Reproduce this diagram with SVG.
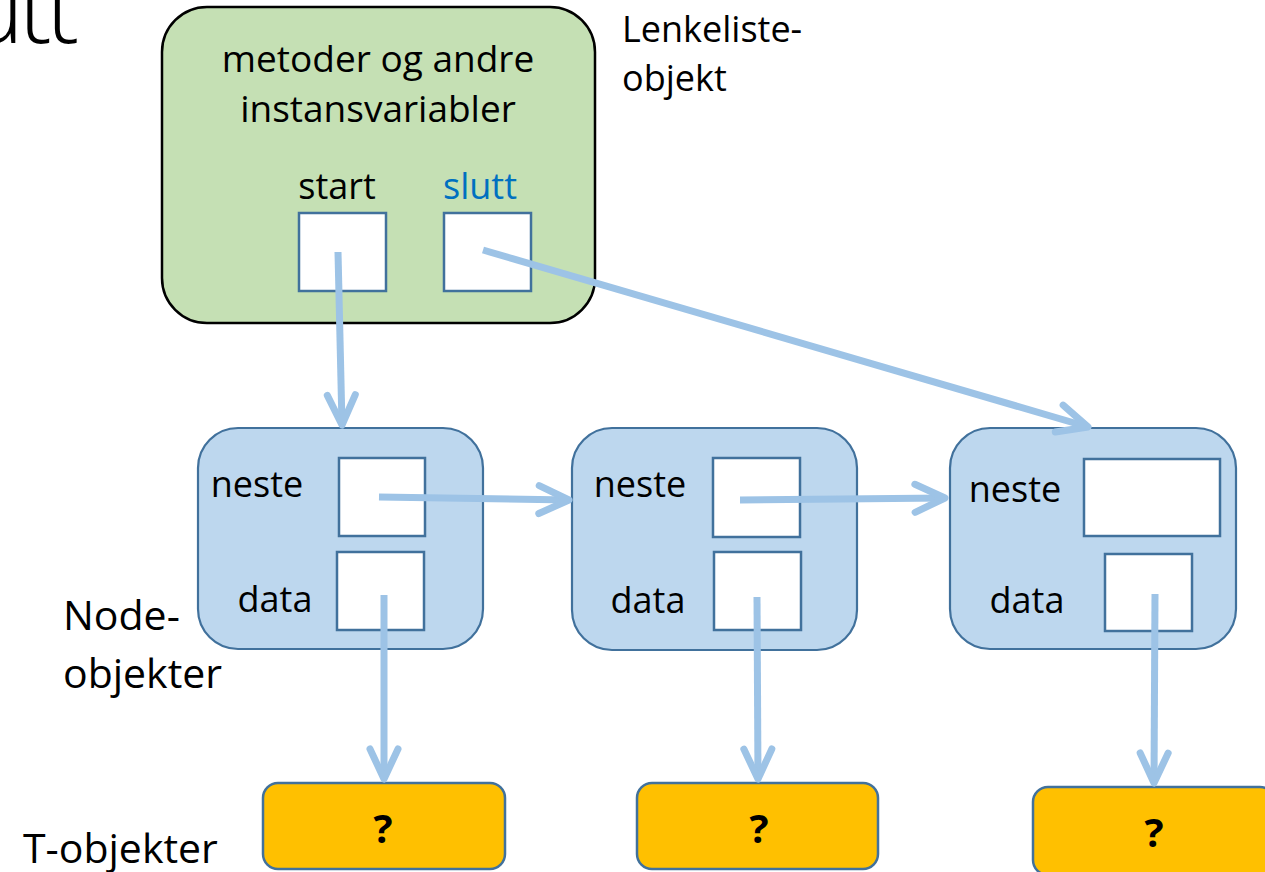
<svg xmlns="http://www.w3.org/2000/svg" width="1265" height="872" viewBox="0 0 1265 872">
<style>
text{font-family:"Open Sans","Liberation Sans",sans-serif;fill:#000}
.lbl{font-size:36px}
.side{font-size:41px}
.box{fill:#fff;stroke:#41719c;stroke-width:2.5}
.node{fill:#bdd7ee;stroke:#41719c;stroke-width:2.2}
.tobj{fill:#ffc000;stroke:#41719c;stroke-width:2.5}
.q{font-size:40px;font-weight:bold;text-anchor:middle}
.conn{fill:none;stroke:#9dc3e6;stroke-width:7;marker-end:url(#ah)}
</style>
<defs>
<marker id="ah" markerUnits="userSpaceOnUse" viewBox="-40 -22 50 44" markerWidth="50" markerHeight="44" refX="0" refY="0" orient="auto" overflow="visible">
<path d="M-30,-14 L0,0 L-30,14" fill="none" stroke="#9dc3e6" stroke-width="7" stroke-linecap="round" stroke-linejoin="round"/>
</marker>
</defs>
<rect width="1265" height="872" fill="#fff"/>
<text x="-92" y="43" style="font-size:100px;font-weight:300;letter-spacing:-6px">slutt</text>

<g id="lenkeliste">
<rect x="162" y="7" width="433" height="316" rx="45" fill="#c5e0b4" stroke="#000" stroke-width="2.5"/>
<text class="lbl" x="378" y="72" text-anchor="middle" style="font-size:37px">metoder og andre</text>
<text class="lbl" x="378" y="122" text-anchor="middle" style="font-size:37px">instansvariabler</text>
<text class="lbl" x="337" y="199" text-anchor="middle">start</text>
<text class="lbl" x="480" y="199" text-anchor="middle" style="fill:#0070c0">slutt</text>
<rect class="box" x="299" y="213" width="87" height="78"/>
<rect class="box" x="444" y="213" width="87" height="78"/>
</g>
<text class="lbl" x="622" y="42">Lenkeliste-</text>
<text class="lbl" x="622" y="91">objekt</text>

<g id="node1">
<rect class="node" x="198" y="428" width="285" height="221" rx="40"/>
<text class="lbl" x="257" y="497" text-anchor="middle">neste</text>
<text class="lbl" x="275" y="612" text-anchor="middle">data</text>
<rect class="box" x="339" y="458" width="86" height="78"/>
<rect class="box" x="337" y="552" width="87" height="78"/>
</g>
<g id="node2">
<rect class="node" x="572" y="428" width="285" height="222" rx="40"/>
<text class="lbl" x="640" y="497" text-anchor="middle">neste</text>
<text class="lbl" x="648" y="613" text-anchor="middle">data</text>
<rect class="box" x="713" y="458" width="87" height="79"/>
<rect class="box" x="714" y="552" width="87" height="78"/>
</g>
<g id="node3">
<rect class="node" x="950" y="428" width="286" height="221" rx="40"/>
<text class="lbl" x="1015" y="502" text-anchor="middle">neste</text>
<text class="lbl" x="1027" y="613" text-anchor="middle">data</text>
<rect class="box" x="1084" y="459" width="136" height="77"/>
<rect class="box" x="1105" y="554" width="87" height="77"/>
</g>
<text class="side" x="63" y="630">Node-</text>
<text class="side" x="63" y="688">objekter</text>

<g id="t1">
<rect class="tobj" x="263" y="783" width="242" height="86" rx="15"/>
<text class="q" x="383" y="843">?</text>
</g>
<g id="t2">
<rect class="tobj" x="637" y="783" width="241" height="86" rx="15"/>
<text class="q" x="759" y="843">?</text>
</g>
<g id="t3">
<rect class="tobj" x="1033" y="787" width="242" height="88" rx="15"/>
<text class="q" x="1154" y="847">?</text>
</g>
<text class="side" x="23" y="863">T-objekter</text>

<g id="connectors">
<path class="conn" d="M338,252 L342,425"/>
<path class="conn" d="M483,250 L1088,427"/>
<path class="conn" d="M379,497 L569,500"/>
<path class="conn" d="M740,500 L945,498"/>
<path class="conn" d="M384,595 L384,779"/>
<path class="conn" d="M757,597 L758,779"/>
<path class="conn" d="M1155,594 L1154,783"/>
</g>
</svg>
